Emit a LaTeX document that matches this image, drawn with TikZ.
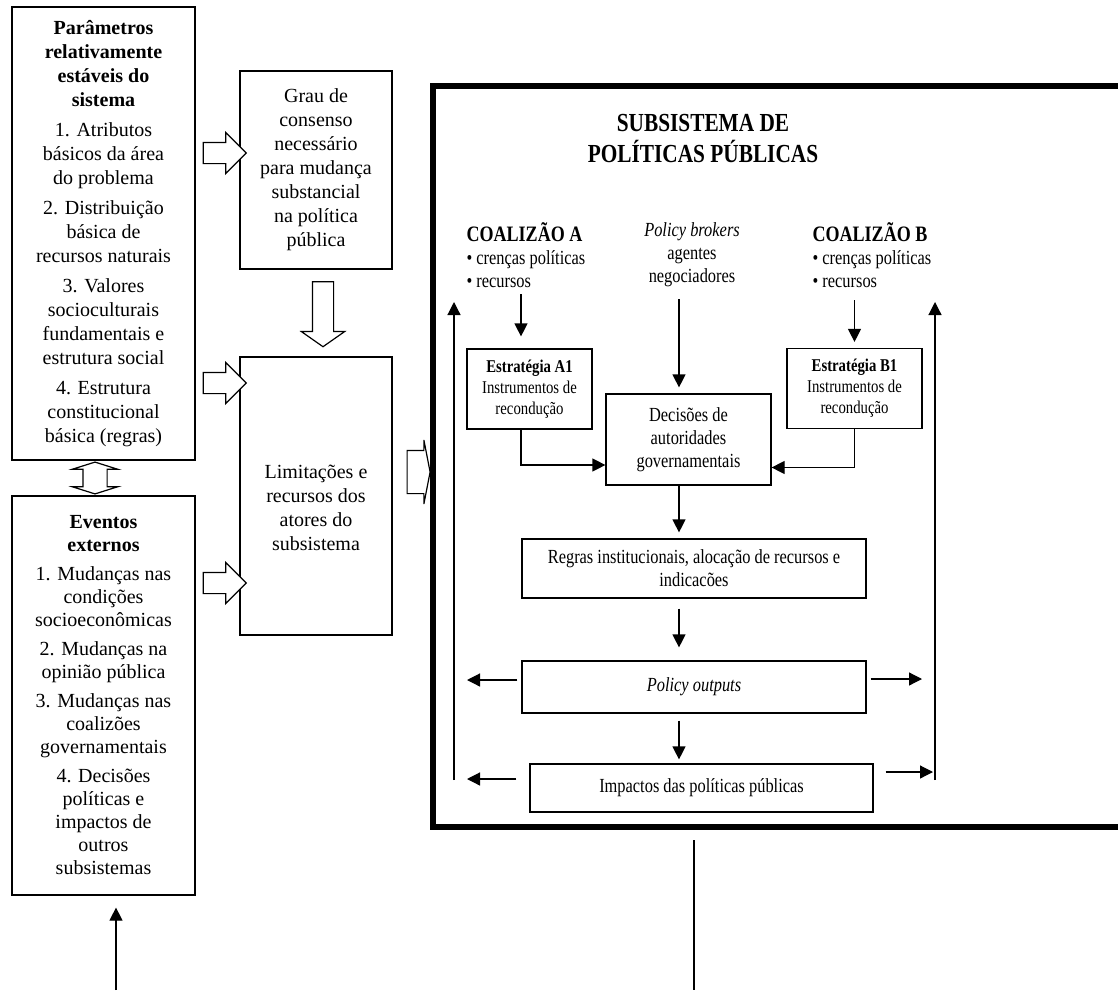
\documentclass[tikz,border=0pt]{standalone}
\usepackage{fontspec}
\setmainfont{Liberation Serif}
\newfontfamily\narrowrm{Liberation Serif}[FakeStretch=0.82]
\usetikzlibrary{arrows.meta,shapes.arrows}

\begin{document}
\begin{tikzpicture}[
  x=0.5pt, y=-0.5pt,
  line width=0.6pt,
  font=\fontsize{10}{12}\selectfont,
  box/.style={draw, align=center, inner sep=2pt},
  side/.style={box, minimum width=91.5pt},
  inbox/.style={box, font=\narrowrm\fontsize{10}{11.5}\selectfont},
  strat/.style={box, font=\narrowrm\fontsize{9}{10.5}\selectfont,
                minimum height=40pt},
  hdr/.style={inner sep=0pt, font=\narrowrm\fontsize{10}{11.5}\selectfont},
  blk/.style={single arrow, draw, fill=white, inner sep=5pt,
              single arrow head extend=5pt, minimum height=#1},
  arr/.style={-{Triangle[length=6.5pt,width=6.5pt]}, shorten >=3pt},
  frame/.style={line width=2.6pt}
]
\useasboundingbox (0,0) rectangle (1118,990);
% left column
\node[side, minimum height=226.5pt] (params) at (103.5,233.5)
  {\textbf{Parâmetros}\\ \textbf{relativamente}\\ \textbf{estáveis do}\\
   \textbf{sistema}\\[3pt]
   1. Atributos\\ básicos da área\\ do problema\\[3pt]
   2. Distribuição\\ básica de\\ recursos naturais\\[3pt]
   3. Valores\\ socioculturais\\ fundamentais e\\ estrutura social\\[3pt]
   4. Estrutura\\ constitucional\\ básica (regras)};
\node[side, minimum height=199.5pt, font=\fontsize{10}{11.5}\selectfont]
  (events) at (103.5,695.5)
  {\textbf{Eventos}\\ \textbf{externos}\\[3pt]
   1. Mudanças nas\\ condições\\ socioeconômicas\\[3pt]
   2. Mudanças na\\ opinião pública\\[3pt]
   3. Mudanças nas\\ coalizões\\ governamentais\\[3pt]
   4. Decisões\\ políticas e\\ impactos de\\ outros\\ subsistemas};
\node[box, minimum width=76pt, minimum height=99pt] (grau) at (316,170)
  {Grau de\\ consenso\\ necessário\\ para mudança\\ substancial\\ na política\\
   pública};
\node[box, minimum width=76pt, minimum height=139pt] (limit) at (316,496)
  {\rule{0pt}{19pt}Limitações e\\ recursos dos\\ atores do\\ subsistema};
% block arrows
\node[blk=21.5pt] (pgarr) at (219.5,153) {};
\node[blk=21.5pt] (plarr) at (219.5,383) {};
\node[blk=21.5pt] (elarr) at (219.5,583) {};
\node[blk=32.5pt, shape border rotate=270, single arrow head extend=5.5pt,
      single arrow tip angle=110] (glarr) at (323,310.5) {};
\node[double arrow, draw, fill=white, inner sep=5.75pt,
      double arrow head extend=5.25pt, double arrow tip angle=145,
      minimum height=15pt, shape border rotate=90] (pearr) at (95,478) {};
\node[blk=11.5pt, inner xsep=0pt, inner ysep=10.5pt,
      single arrow head extend=5.25pt, single arrow tip angle=158]
  (lsarr) at (416.5,472) {};
% subsystem frame
\coordinate (fr0) at (1120,86);
\coordinate (fr1) at (433,86);
\coordinate (fr2) at (433,827);
\coordinate (fr3) at (1120,827);
\draw[frame] (fr0) -- (fr1) -- (fr2) -- (fr3);
\node[font=\narrowrm\bfseries\fontsize{13}{15.5}\selectfont, align=center]
  (title) at (703,139) {SUBSISTEMA DE\\ POLÍTICAS PÚBLICAS};
% coalitions and brokers
\node[hdr, align=left, anchor=north west] (coalA) at (466,222)
  {{\bfseries\fontsize{11}{13}\selectfont COALIZÃO A}\\ • crenças políticas\\
   • recursos};
\node[hdr, align=center, anchor=north] (brokers) at (692,222)
  {\itshape Policy brokers\\ agentes\\ negociadores};
\node[hdr, align=left, anchor=north west] (coalB) at (812,222)
  {{\bfseries\fontsize{11}{13}\selectfont COALIZÃO B}\\ • crenças políticas\\
   • recursos};
\node[strat, minimum width=62.5pt] (a1) at (529.5,389)
  {\textbf{Estratégia A1}\\ Instrumentos de\\ recondução};
\node[strat, minimum width=67.5pt] (b1) at (854.5,388.5)
  {\textbf{Estratégia B1}\\ Instrumentos de\\ recondução};
\node[inbox, minimum width=82.5pt, minimum height=45.5pt] (dec) at (688.5,439.5)
  {Decisões de\\ autoridades\\ governamentais};
\node[inbox, minimum width=172pt, minimum height=29.5pt] (regras) at (694,568.5)
  {Regras institucionais, alocação de recursos e\\ indicacões};
\node[inbox, minimum width=172pt, minimum height=26pt] (outputs) at (694,687)
  {\itshape Policy outputs};
\node[inbox, minimum width=171.5pt, minimum height=24pt] (impactos)
  at (701.5,788) {Impactos das políticas públicas};
% helper points
\coordinate (axis) at (679,0);
\coordinate (fbl0) at (454,780);
\coordinate (fbl1) at (454,302);
\coordinate (fbr0) at (935,780);
\coordinate (fbr1) at (935,302);
\coordinate (out0) at (694,840);
\coordinate (out1) at (694,990);
\coordinate (evin) at (116,990);
% arrows
\draw[arr, shorten <=3pt, shorten >=6pt] (coalA.south -| 521,0) -- (a1.north -| 521,0);
\draw[arr, shorten <=6pt] (brokers.south -| axis) -- (dec.north -| axis);
\draw[arr, shorten <=6pt] (coalB.south -| b1) -- (b1);
\draw[arr, shorten >=0pt] (a1.south -| 521,0) |- ([yshift=-12.75pt]dec.west);
\draw[arr, shorten >=0pt] (b1.south) |- ([yshift=-14pt]dec.east);
\draw[arr] (dec.south -| axis) -- (regras.north -| axis);
\draw[arr, shorten <=5pt, shorten >=6.5pt] (regras.south -| axis) -- (outputs.north -| axis);
\draw[arr, shorten <=3.5pt, shorten >=2pt] (outputs.south -| axis) -- (impactos.north -| axis);
\draw[arr, shorten <=2pt, shorten >=6.5pt] ([yshift=3.5pt]outputs.west) -- ([yshift=3.5pt]outputs.west -| fbl0);
\draw[arr, shorten <=2pt, shorten >=6.5pt] ([yshift=4pt]outputs.east) -- ([yshift=4pt]outputs.east -| fbr0);
\draw[arr, shorten <=6.5pt, shorten >=6.5pt] ([yshift=4.5pt]impactos.west) -- ([yshift=4.5pt]impactos.west -| fbl0);
\draw[arr, shorten <=6pt, shorten >=1pt] ([yshift=8pt]impactos.east) -- ([yshift=8pt]impactos.east -| fbr0);
\draw[arr, shorten >=0pt] (fbl0) -- (fbl1);
\draw[arr, shorten >=0pt] (fbr0) -- (fbr1);
\draw (out0) -- (out1);
\draw[arr, shorten >=6pt] (evin) -- (events.south -| evin);
\end{tikzpicture}
\end{document}
